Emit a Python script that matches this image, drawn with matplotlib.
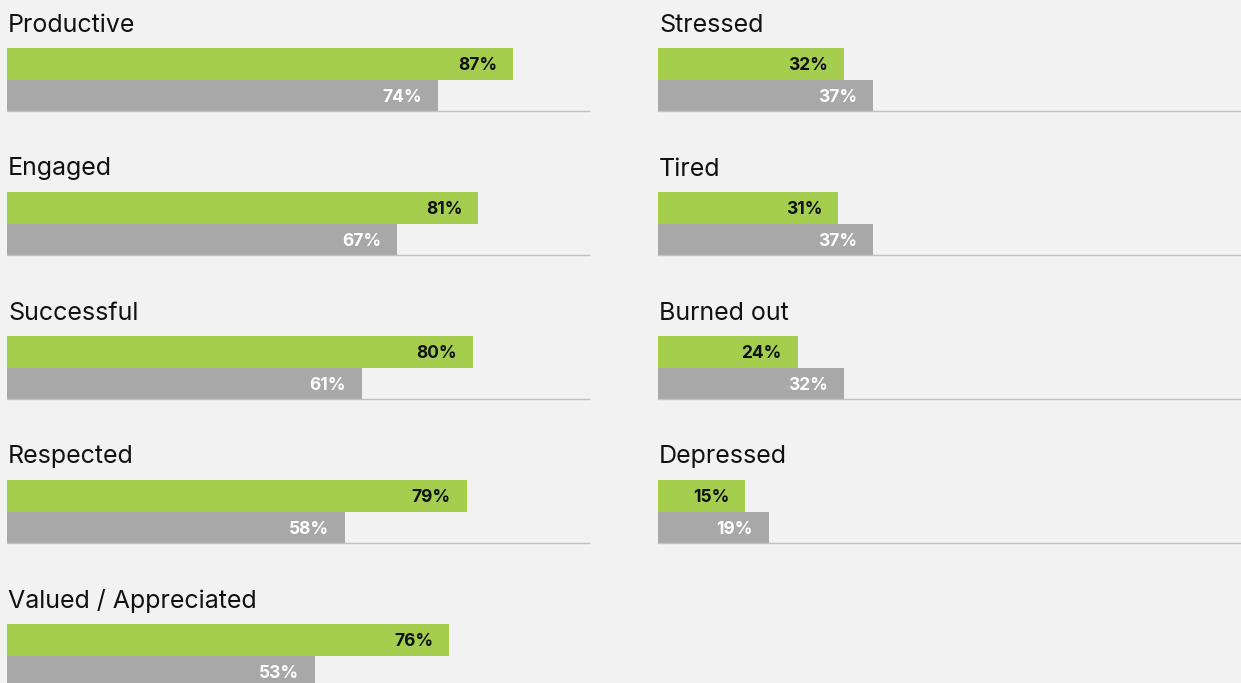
import matplotlib
matplotlib.use("Agg")
import matplotlib.pyplot as plt

# Share of respondents describing themselves with each word
positive_labels = ["Productive", "Engaged", "Successful", "Respected", "Valued / Appreciated"]
positive_green = [87, 81, 80, 79, 76]
positive_gray = [74, 67, 61, 58, 53]

negative_labels = ["Stressed", "Tired", "Burned out", "Depressed"]
negative_green = [32, 31, 24, 15]
negative_gray = [37, 37, 32, 19]

GREEN = "#a5ce4f"
GRAY = "#a8a8a8"
BG = "#f2f2f2"
RULE = "#c2c2c2"

plt.rcParams["font.family"] = ["Inter", "DejaVu Sans"]

W, H = 1241, 683
fig = plt.figure(figsize=(W / 100, H / 100), dpi=100, facecolor=BG)

ROW_PITCH = 144
BAR_TOP = 48
PANEL_H = 63
COLS = [(7, positive_labels, positive_green, positive_gray),
        (658, negative_labels, negative_green, negative_gray)]
PANEL_W = 582


def panel(x0, row, label, g, s):
    top = BAR_TOP + ROW_PITCH * row
    ax = fig.add_axes([x0 / W, (H - top - PANEL_H) / H, PANEL_W / W, PANEL_H / H])
    ax.set_facecolor("none")
    ax.set_xlim(0, 100)
    ax.set_ylim(-0.5, 1.5)
    ax.barh([1], [g], height=1.0, color=GREEN, linewidth=0)
    ax.barh([0], [s], height=1.0, color=GRAY, linewidth=0)
    ax.axhline(-0.5, color=RULE, lw=1.0, clip_on=False)
    ax.annotate(f"{g}%", (g, 1), xytext=(-16, -2), textcoords="offset pixels",
                ha="right", va="center", fontsize=12.5, fontweight="bold", color="#111111")
    ax.annotate(f"{s}%", (s, 0), xytext=(-16, -2), textcoords="offset pixels",
                ha="right", va="center", fontsize=12.5, fontweight="bold", color="white")
    ax.annotate(label, (0, 1.5), xytext=(1, 23), textcoords="offset pixels",
                ha="left", va="center", fontsize=18, color="#111111")
    ax.axis("off")


for x0, labels, greens, grays in COLS:
    for i, (lab, g, s) in enumerate(zip(labels, greens, grays)):
        panel(x0, i, lab, g, s)

fig.savefig("out.png", dpi=100, facecolor=BG)
